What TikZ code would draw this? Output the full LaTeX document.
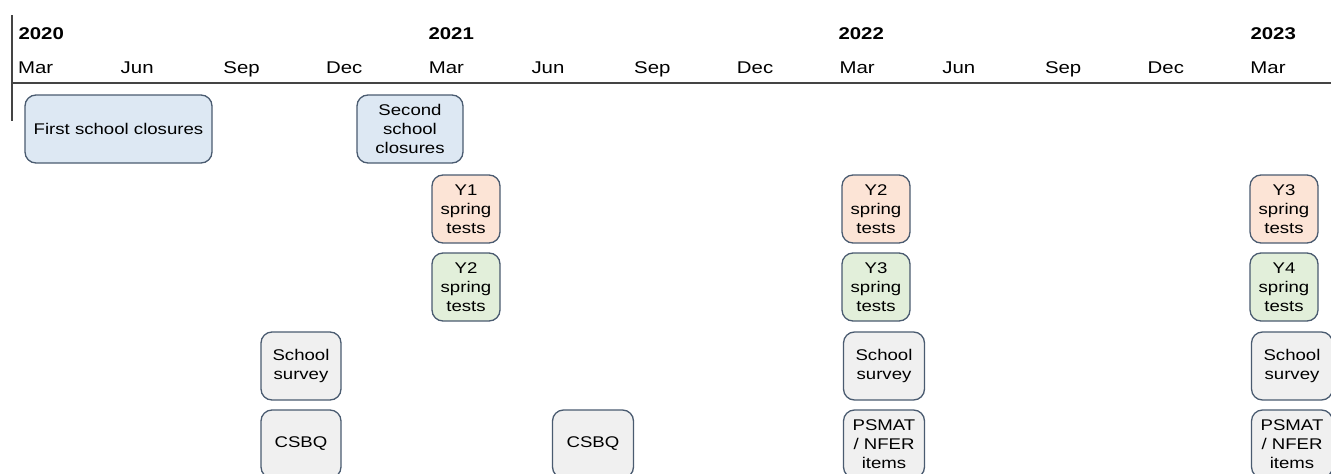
\documentclass[tikz,border=0pt]{standalone}
\usepackage{fontspec}
\setmainfont{Liberation Sans}[FakeStretch=1.2]
\definecolor{edgecol}{HTML}{4A5B70}
\definecolor{closefill}{HTML}{DDE8F3}
\definecolor{testfill}{HTML}{FCE4D6}
\definecolor{testfillb}{HTML}{E2EFDA}
\definecolor{surveyfill}{HTML}{F0F0F0}
\definecolor{rulecol}{HTML}{444444}
\begin{document}
\begin{tikzpicture}[x=1pt, y=-1pt,
    box/.style={draw=edgecol, line width=1.3pt, rounded corners=11pt, minimum height=68pt,
        align=center, inner sep=0pt, font=\fontsize{15.5}{19}\selectfont},
    closebox/.style={box, fill=closefill},
    testbox/.style={box, fill=testfill, minimum width=68pt},
    testboxb/.style={box, fill=testfillb, minimum width=68pt},
    surveybox/.style={box, fill=surveyfill, minimum width=81pt},
    yearlab/.style={anchor=base west, font=\fontsize{17}{20}\selectfont\bfseries},
    monthlab/.style={anchor=base west, font=\fontsize{17}{20}\selectfont}]
    \useasboundingbox (0,0) rectangle (1331,474);
    \clip (0,0) rectangle (1331,474);

    % Axes
    \coordinate (vtop) at (12,15);
    \coordinate (vbot) at (12,121);
    \coordinate (hleft) at (12,83);
    \coordinate (hright) at (1331,83);
    \draw[rulecol, line width=1.4pt] (vtop) -- (vbot);
    \draw[rulecol, line width=1.4pt] (hleft) -- (hright);

    % Years
    \node[yearlab] (y2020) at (15,39) {2020};
    \node[yearlab] (y2021) at (425,39) {2021};
    \node[yearlab] (y2022) at (835,39) {2022};
    \node[yearlab] (y2023) at (1247,39) {2023};

    % Months
    \foreach \m [count=\i from 0] in {Mar,Jun,Sep,Dec,Mar,Jun,Sep,Dec,Mar,Jun,Sep,Dec,Mar}
        \node[monthlab] (month\i) at (14.5+\i*102.7,73) {\m};

    % School closures
    \node[closebox, minimum width=187pt] (close1) at (118.5,129) {First school closures};
    \node[closebox, minimum width=106pt] (close2) at (410,129) {Second\\school\\closures};

    % Spring tests
    \node[testbox] (tests1a) at (466,209) {Y1\\spring\\tests};
    \node[testboxb] (tests1b) at (466,287) {Y2\\spring\\tests};
    \node[testbox] (tests2a) at (876,209) {Y2\\spring\\tests};
    \node[testboxb] (tests2b) at (876,287) {Y3\\spring\\tests};
    \node[testbox] (tests3a) at (1284,209) {Y3\\spring\\tests};
    \node[testboxb] (tests3b) at (1284,287) {Y4\\spring\\tests};

    % Surveys
    \node[surveybox, minimum width=80pt] (survey1) at (301,366) {School\\survey};
    \node[surveybox] (survey2) at (884,366) {School\\survey};
    \node[surveybox] (survey3) at (1292,366) {School\\survey};

    % CSBQ and PSMAT
    \node[surveybox, minimum width=80pt] (csbq1) at (301,444) {CSBQ};
    \node[surveybox] (csbq2) at (593,444) {CSBQ};
    \node[surveybox] (psmat1) at (884,444) {PSMAT\\/ NFER\\items};
    \node[surveybox] (psmat2) at (1292,444) {PSMAT\\/ NFER\\items};
\end{tikzpicture}
\end{document}
